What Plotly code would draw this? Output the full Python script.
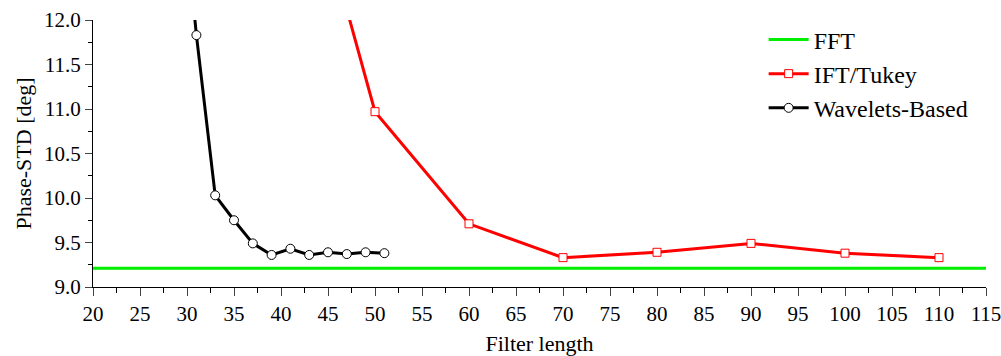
import plotly.graph_objects as go

fft_x = [20, 115]
fft_y = [9.21, 9.21]

tukey_x = [40, 50, 60, 70, 80, 90, 100, 110]
tukey_y = [14.8, 10.97, 9.71, 9.33, 9.39, 9.49, 9.38, 9.33]

wave_x = [29, 31, 33, 35, 37, 39, 41, 43, 45, 47, 49, 51]
wave_y = [14.0, 11.83, 10.03, 9.75, 9.49, 9.36, 9.43, 9.36, 9.39, 9.37, 9.39, 9.38]

font = "'Liberation Serif', 'Times New Roman', Times, serif"
tickfont = dict(family=font, size=21, color="black")

fig = go.Figure()
fig.add_trace(go.Scatter(x=fft_x, y=fft_y, mode="lines", name="FFT",
                         line=dict(color="#00ee00", width=3)))
fig.add_trace(go.Scatter(x=tukey_x, y=tukey_y, mode="lines+markers", name="IFT/Tukey",
                         line=dict(color="#ff0000", width=3),
                         marker=dict(symbol="square", size=8, color="white",
                                     line=dict(color="#ff0000", width=1))))
fig.add_trace(go.Scatter(x=wave_x, y=wave_y, mode="lines+markers", name="Wavelets-Based",
                         line=dict(color="black", width=3),
                         marker=dict(symbol="circle", size=9, color="white",
                                     line=dict(color="black", width=1))))

fig.update_layout(
    width=1001, height=356,
    margin=dict(l=93, r=15, t=20, b=69),
    paper_bgcolor="white", plot_bgcolor="white",
    font=dict(family=font, size=22, color="black"),
    showlegend=True,
    legend=dict(x=0.751, y=1.01, xanchor="left", yanchor="top",
                font=dict(family=font, size=24), bgcolor="rgba(0,0,0,0)",
                tracegroupgap=0, itemwidth=40),
    xaxis=dict(range=[20, 115], tick0=20, dtick=5, ticks="outside", ticklen=8,
               tickwidth=1, showline=True, linecolor="black", linewidth=1,
               showgrid=False, zeroline=False, automargin=False,
               ticklabeloverflow="allow", tickfont=tickfont,
               minor=dict(dtick=2.5, ticks="outside", ticklen=5, tickcolor="black"),
               title=dict(text="Filter length", font=dict(family=font, size=22), standoff=20)),
    yaxis=dict(range=[9, 12], tick0=9, dtick=0.5, tickformat=".1f", ticks="outside", ticklen=7,
               tickwidth=1, showline=True, linecolor="black", linewidth=1,
               showgrid=False, zeroline=False, automargin=False,
               ticklabeloverflow="allow", tickfont=tickfont,
               minor=dict(dtick=0.25, ticks="outside", ticklen=4, tickcolor="black"),
               title=dict(text="Phase-STD [deg]", font=dict(family=font, size=22), standoff=6)),
)

fig.write_html("out.html")
